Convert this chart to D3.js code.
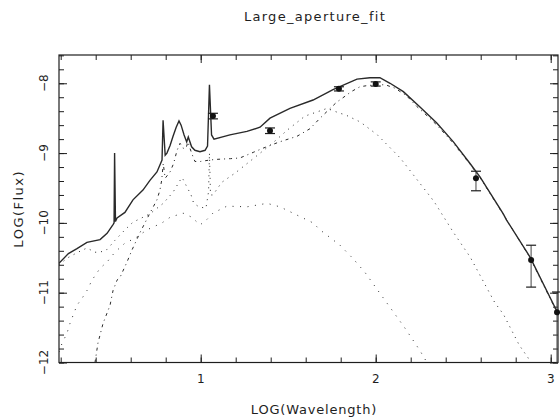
<!DOCTYPE html>
<html lang="en">
<head>
<meta charset="UTF-8">
<title>Large_aperture_fit</title>
<script src="https://cdn.jsdelivr.net/npm/d3@7"></script>
<style>
  body { margin: 0; background: #fff; }
  text { font-family: "DejaVu Sans", sans-serif; fill: #1e1e1e; }
  .model { fill: none; stroke: #2a2a2a; }
  .tick line { stroke: #1e1e1e; }
</style>
</head>
<body>
<div id="chart"></div>
<script>
// values: log wavelength (x) vs log flux (y)
const totalModel = [
  [0.190,-10.58],[0.244,-10.44],[0.293,-10.37],[0.350,-10.28],[0.425,-10.24],[0.465,-10.15],[0.500,-10.02],
  [0.505,-10.00],[0.508,-9.00],[0.513,-9.98],[0.522,-9.93],[0.567,-9.85],[0.613,-9.67],[0.670,-9.53],
  [0.710,-9.39],[0.750,-9.27],[0.767,-9.17],[0.779,-9.10],[0.785,-8.53],[0.797,-9.03],[0.807,-9.00],
  [0.825,-8.89],[0.842,-8.76],[0.860,-8.63],[0.876,-8.54],[0.888,-8.60],[0.905,-8.74],[0.920,-8.84],
  [0.929,-8.77],[0.948,-8.91],[0.967,-8.96],[0.996,-8.98],[1.025,-8.96],[1.039,-8.90],[1.050,-8.02],
  [1.062,-8.74],[1.076,-8.80],[1.167,-8.74],[1.264,-8.69],[1.339,-8.63],[1.396,-8.50],[1.510,-8.36],
  [1.642,-8.24],[1.756,-8.09],[1.893,-7.94],[1.967,-7.92],[2.024,-7.92],[2.082,-8.00],[2.158,-8.12],
  [2.253,-8.34],[2.349,-8.57],[2.444,-8.84],[2.539,-9.15],[2.596,-9.34],[2.729,-9.87],[2.748,-9.96],
  [2.882,-10.49],[3.036,-11.27]
];
const cirrusModel = [
  [0.396,-12.00],[0.413,-11.72],[0.442,-11.44],[0.482,-11.18],[0.499,-10.97],[0.522,-10.82],[0.539,-10.78],
  [0.579,-10.56],[0.607,-10.39],[0.653,-10.14],[0.710,-9.86],[0.750,-9.67],[0.767,-9.53],[0.777,-9.39],
  [0.786,-9.15],[0.797,-9.36],[0.825,-9.27],[0.845,-9.15],[0.865,-8.96],[0.882,-8.86],[0.899,-8.93],
  [0.916,-8.93],[0.927,-8.84],[0.948,-9.00],[0.967,-9.12],[1.000,-9.12],[1.050,-9.10],[1.090,-9.09],
  [1.170,-9.08],[1.224,-9.07],[1.300,-8.99],[1.356,-8.93],[1.450,-8.84],[1.550,-8.76],[1.625,-8.65],
  [1.682,-8.50],[1.740,-8.36],[1.777,-8.27],[1.806,-8.22],[1.860,-8.12],[1.910,-8.05],[1.960,-8.03],
  [2.053,-8.02],[2.110,-8.07],[2.177,-8.18],[2.234,-8.33],[2.300,-8.48],[2.350,-8.60],[2.444,-8.86],
  [2.539,-9.16],[2.596,-9.35],[2.729,-9.88],[2.882,-10.50],[3.036,-11.28]
];
const mcModel = [
  [0.190,-10.60],[0.240,-10.50],[0.299,-10.42],[0.350,-10.36],[0.396,-10.42],[0.425,-10.42],[0.465,-10.38],
  [0.510,-10.25],[0.567,-10.10],[0.613,-9.99],[0.710,-9.87],[0.786,-9.72],[0.842,-9.56],[0.880,-9.40],
  [0.893,-9.35],[0.900,-9.38],[0.916,-9.46],[0.945,-9.60],[0.960,-9.72],[0.990,-9.77],[1.030,-9.79],
  [1.045,-9.55],[1.050,-9.00],[1.056,-9.60],[1.070,-9.60],[1.120,-9.42],[1.200,-9.28],[1.300,-9.08],
  [1.400,-8.88],[1.500,-8.66],[1.596,-8.47],[1.665,-8.41],[1.722,-8.36],[1.796,-8.43],[1.825,-8.45],
  [1.900,-8.54],[1.920,-8.57],[2.010,-8.74],[2.140,-9.07],[2.320,-9.65],[2.340,-9.72],[2.440,-10.12],
  [2.510,-10.38],[2.540,-10.49],[2.680,-11.14],[2.730,-11.31],[2.820,-11.75],[2.870,-11.93],[2.885,-12.00]
];
const hotModel = [
  [0.190,-11.85],[0.207,-11.73],[0.236,-11.58],[0.253,-11.44],[0.293,-11.18],[0.322,-11.08],[0.350,-10.97],
  [0.379,-10.82],[0.425,-10.65],[0.465,-10.56],[0.510,-10.42],[0.567,-10.29],[0.625,-10.22],[0.693,-10.10],
  [0.779,-10.00],[0.825,-9.92],[0.899,-9.86],[0.950,-9.92],[0.996,-10.03],[1.036,-9.95],[1.070,-9.86],
  [1.150,-9.76],[1.264,-9.77],[1.379,-9.72],[1.453,-9.77],[1.527,-9.86],[1.642,-10.00],[1.682,-10.10],
  [1.796,-10.32],[1.870,-10.51],[1.939,-10.71],[2.013,-10.97],[2.082,-11.21],[2.168,-11.51],[2.253,-11.83],
  [2.293,-12.00]
];

// photometry with error bars
const obsX  = [1.070, 1.396, 1.790, 2.000, 2.573, 2.888, 3.036];
const obsY  = [-8.47, -8.68, -8.08, -8.01, -9.36, -10.53, -11.28];
const obsLo = [-8.51, -8.72, -8.11, -8.04, -9.54, -10.92, -12.00];
const obsHi = [-8.43, -8.64, -8.05, -7.98, -9.26, -10.32, -10.99];

const xMajor = [1, 2, 3];
const yMajor = [-12, -11, -10, -9, -8];
const xMinor = d3.range(1, 16).map(i => i / 5);
const yMinor = d3.range(-60, -37).map(i => i / 5);

const title = "Large_aperture_fit";
const xTitle = "LOG(Wavelength)";
const yTitle = "LOG(Flux)";

// layout
const W = 560, H = 419;
const margin = { top: 55, right: 2, bottom: 56.5, left: 59 },
    width = W - margin.left - margin.right,
    height = H - margin.top - margin.bottom;

const svg = d3.select("#chart").append("svg")
    .attr("width", W).attr("height", H);

const x = d3.scaleLinear().domain([0.1903, 3.0417]).range([margin.left, margin.left + width]);
const y = d3.scaleLinear().domain([-12, -7.595]).range([margin.top + height, margin.top]);

svg.append("clipPath").attr("id", "plotclip")
  .append("rect")
    .attr("x", margin.left).attr("y", margin.top)
    .attr("width", width).attr("height", height);

// axes: minor + major ticks on all four sides, pointing inward
function ticks(axis, at, vals, size) {
    svg.append("g")
        .attr("transform", at)
        .call(axis.tickValues(vals).tickSize(size).tickSizeOuter(0).tickFormat(""))
        .call(g => g.select(".domain").remove())
        .call(g => g.selectAll("line").attr("stroke-width", 1));
}
const bottomT = `translate(0,${margin.top + height})`, topT = `translate(0,${margin.top})`;
const leftT = `translate(${margin.left},0)`, rightT = `translate(${margin.left + width},0)`;
ticks(d3.axisBottom(x), bottomT, xMinor, -5);
ticks(d3.axisBottom(x), bottomT, xMajor, -8);
ticks(d3.axisTop(x), topT, xMinor, -5);
ticks(d3.axisTop(x), topT, xMajor, -8);
ticks(d3.axisLeft(y), leftT, yMinor, -5);
ticks(d3.axisLeft(y), leftT, yMajor, -8);
ticks(d3.axisRight(y), rightT, yMinor, -5);
ticks(d3.axisRight(y), rightT, yMajor, -8);

svg.append("rect")
    .attr("x", margin.left).attr("y", margin.top)
    .attr("width", width).attr("height", height)
    .attr("fill", "none").attr("stroke", "#1e1e1e").attr("stroke-width", 1.2);

// tick labels
svg.selectAll(".xlab").data(xMajor).join("text")
    .attr("class", "xlab")
    .attr("x", d => x(d)).attr("y", 383)
    .attr("text-anchor", "middle").attr("font-size", 12)
    .text(d => d);

svg.selectAll(".ylab").data(yMajor).join("text")
    .attr("class", "ylab")
    .attr("transform", d => `translate(48,${y(d)}) rotate(-90)`)
    .attr("text-anchor", "middle").attr("font-size", 12)
    .text(d => "\u2212" + Math.abs(d));

// titles
svg.append("text")
    .attr("x", 315).attr("y", 21)
    .attr("text-anchor", "middle").attr("font-size", 13)
    .attr("letter-spacing", 1.3)
    .text(title);
svg.append("text")
    .attr("x", 314).attr("y", 414)
    .attr("text-anchor", "middle").attr("font-size", 13)
    .attr("letter-spacing", 0.8)
    .text(xTitle);
svg.append("text")
    .attr("transform", `translate(23,${margin.top + height / 2}) rotate(-90)`)
    .attr("text-anchor", "middle").attr("font-size", 13)
    .attr("letter-spacing", 1.5)
    .text(yTitle);

// model curves
const line = d3.line().x(d => x(d[0])).y(d => y(d[1]));
const plot = svg.append("g").attr("clip-path", "url(#plotclip)");

plot.append("path").datum(hotModel).attr("class", "model")
    .attr("stroke-width", 1).attr("stroke-dasharray", "1,6.5").attr("d", line);
plot.append("path").datum(mcModel).attr("class", "model")
    .attr("stroke-width", 1).attr("stroke-dasharray", "1,5").attr("d", line);
plot.append("path").datum(cirrusModel).attr("class", "model")
    .attr("stroke-width", 1).attr("stroke-dasharray", "3,4,1,4").attr("d", line);
plot.append("path").datum(totalModel).attr("class", "model")
    .attr("stroke", "#111").attr("stroke-width", 1.4).attr("d", line);

// observed points
const obs = obsX.map((v, i) => ({ x: v, y: obsY[i], lo: obsLo[i], hi: obsHi[i] }));
const pts = svg.append("g").selectAll("g").data(obs).join("g");
pts.append("line")
    .attr("x1", d => x(d.x)).attr("x2", d => x(d.x))
    .attr("y1", d => y(d.lo)).attr("y2", d => y(d.hi))
    .attr("stroke", "#444").attr("stroke-width", 1);
pts.append("line")
    .attr("x1", d => x(d.x) - 5).attr("x2", d => x(d.x) + 5)
    .attr("y1", d => y(d.hi)).attr("y2", d => y(d.hi))
    .attr("stroke", "#1e1e1e").attr("stroke-width", 1.2);
pts.filter(d => d.lo > -12).append("line")
    .attr("x1", d => x(d.x) - 5).attr("x2", d => x(d.x) + 5)
    .attr("y1", d => y(d.lo)).attr("y2", d => y(d.lo))
    .attr("stroke", "#1e1e1e").attr("stroke-width", 1.2);
pts.append("circle")
    .attr("cx", d => x(d.x)).attr("cy", d => y(d.y))
    .attr("r", 3).attr("fill", "#111");
</script>
</body>
</html>
